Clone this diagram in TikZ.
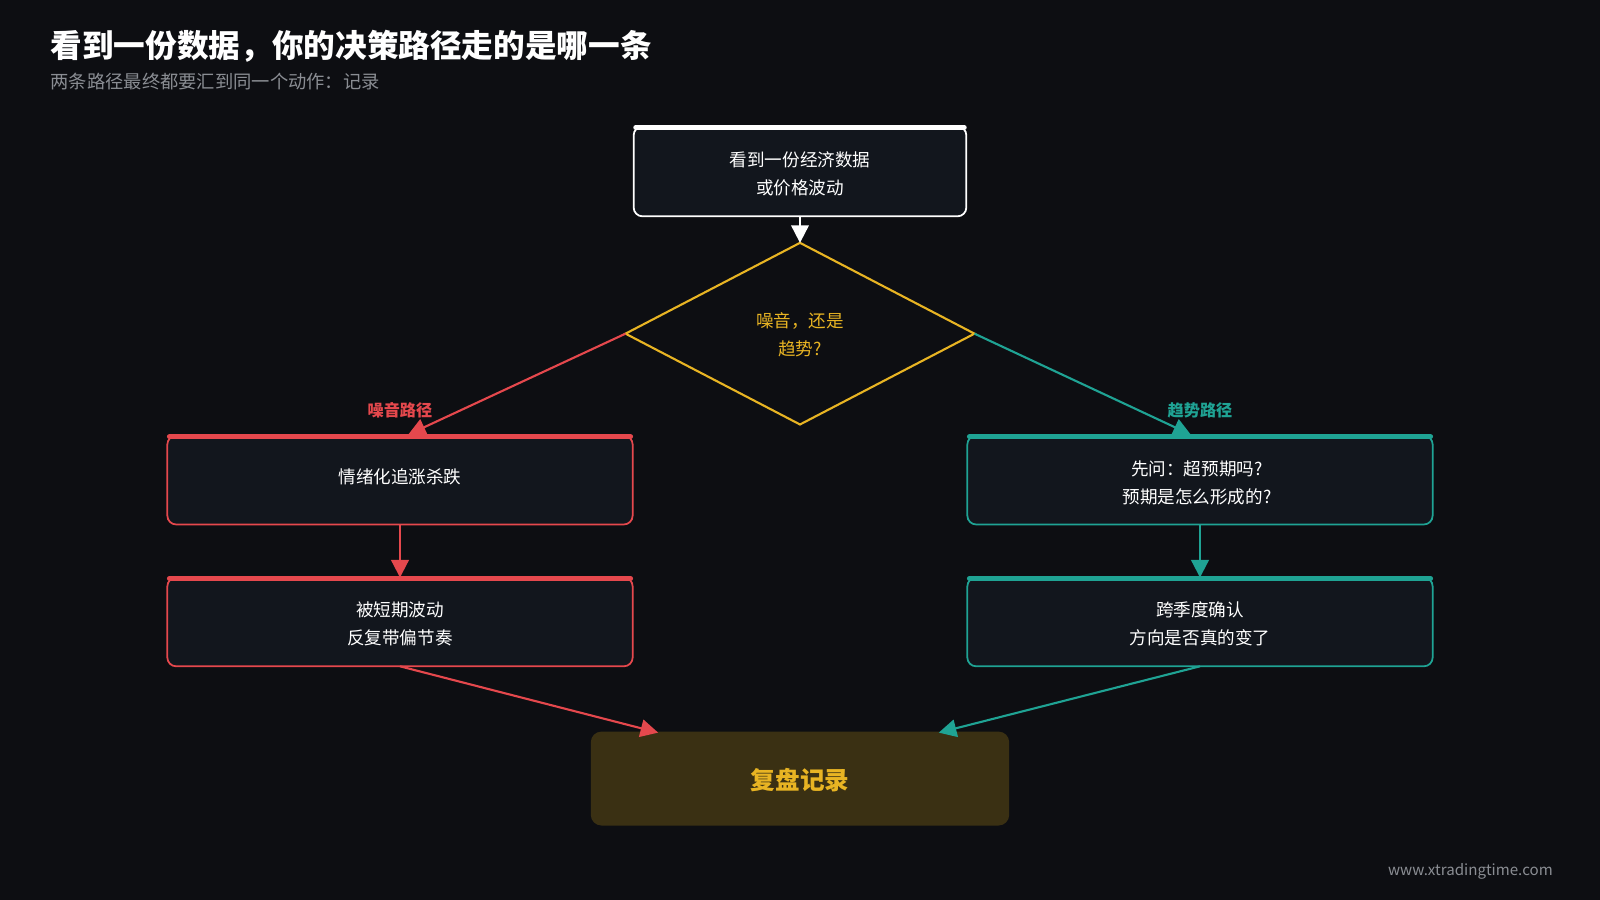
\documentclass[tikz,border=0pt]{standalone}
\usepackage{fontspec}
\setmainfont{Noto Sans CJK SC}
\usetikzlibrary{arrows.meta,shapes.geometric}
\definecolor{bgc}{HTML}{0D0E12}
\definecolor{boxc}{HTML}{12161D}
\definecolor{redc}{HTML}{E5484D}
\definecolor{tealc}{HTML}{1FA394}
\definecolor{yelc}{HTML}{E8B423}
\definecolor{greyc}{HTML}{8A8D93}
\definecolor{olivec}{HTML}{3A3013}
\tikzset{
  card/.style={draw=#1, fill=boxc, rounded corners=2.5pt, line width=0.5pt},
  bar/.style={draw=#1, line width=1.4pt, line cap=round},
  txt/.style={text=white, font=\fontsize{5}{8}\selectfont, align=center, inner sep=0pt},
  link/.style={draw=#1, line width=0.6pt, -{Triangle[length=5pt,width=5pt]}},
}
\begin{document}
\begin{tikzpicture}[x=1cm/98, y=-1cm/98]
 	\fill [bgc] (0,0) rectangle (1568,882);
 	\useasboundingbox (0,0) rectangle (1568,882);
 	% heading
 	\node [anchor=west, text=white, font=\fontsize{9}{11}\selectfont\bfseries, inner sep=0pt] (title) at (49,45) {看到一份数据，你的决策路径走的是哪一条};
 	\node [anchor=west, text=greyc, font=\fontsize{5.2}{6}\selectfont, inner sep=0pt] (sub) at (49,80) {两条路径最终都要汇到同一个动作：记录};
 	% start
 	\draw [card=white] (621,124) rectangle (947,212);
 	\draw [bar=white] (623,125) -- (945,125);
 	\node [txt] (start) at (784,170) {看到一份经济数据\\或价格波动};
 	\coordinate (startb) at (784,212);
 	% decision
 	\draw [yelc, line width=0.6pt, fill=bgc] (784,238) -- (955,327) -- (784,416) -- (613,327) -- cycle;
 	\coordinate (dtop) at (784,238);
 	\coordinate (dleft) at (613,327);
 	\coordinate (dright) at (955,327);
 	\node [txt, text=yelc] (dec) at (784,328) {噪音，还是\\趋势?};
 	\draw [link=white] (startb) -- (dtop);
 	% noise path
 	\draw [card=redc] (164,427) rectangle (620,514);
 	\draw [bar=redc] (166,428) -- (618,428);
 	\node [txt] (n1) at (392,467) {情绪化追涨杀跌};
 	\draw [card=redc] (164,566) rectangle (620,653);
 	\draw [bar=redc] (166,567) -- (618,567);
 	\node [txt] (n2) at (392,611) {被短期波动\\反复带偏节奏};
 	\draw [link=redc] (dleft) -- (400,426);
 	\node [text=redc, font=\fontsize{4.6}{6}\selectfont\bfseries, inner sep=0pt] (nlab) at (392,402) {噪音路径};
 	\draw [link=redc] (392,514) -- (392,566);
 	% trend path
 	\draw [card=tealc] (948,427) rectangle (1404,514);
 	\draw [bar=tealc] (950,428) -- (1402,428);
 	\node [txt] (t1) at (1173,473) {先问：超预期吗?\\预期是怎么形成的?};
 	\draw [card=tealc] (948,566) rectangle (1404,653);
 	\draw [bar=tealc] (950,567) -- (1402,567);
 	\node [txt] (t2) at (1176,611) {跨季度确认\\方向是否真的变了};
 	\draw [link=tealc] (dright) -- (1167,426);
 	\node [text=tealc, font=\fontsize{4.6}{6}\selectfont\bfseries, inner sep=0pt] (tlab) at (1176,402) {趋势路径};
 	\draw [link=tealc] (1176,514) -- (1176,566);
 	% review
 	\fill [olivec, rounded corners=3pt] (579,717) rectangle (989,809);
 	\node [text=yelc, font=\fontsize{7}{9}\selectfont\bfseries, inner sep=0pt] (rev) at (784,765) {复盘记录};
 	\draw [link=redc] (392,653) -- (645,718);
 	\draw [link=tealc] (1176,653) -- (920,718);
 	\node [text=greyc, font=\fontsize{4.3}{6}\selectfont, inner sep=0pt] (url) at (1441,854) {www.xtradingtime.com};
\end{tikzpicture}
\end{document}
